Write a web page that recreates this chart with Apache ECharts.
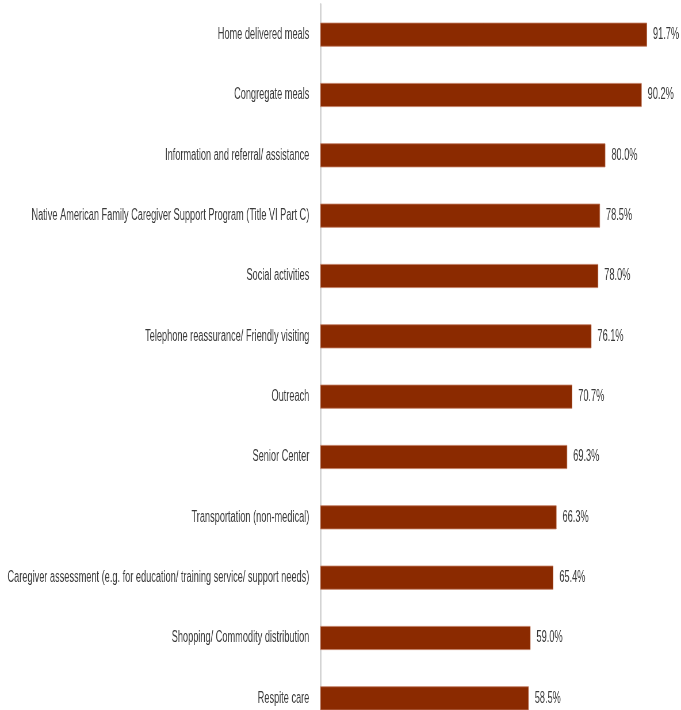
<!DOCTYPE html>
<html>
<head>
<meta charset="utf-8">
<script src="https://cdn.jsdelivr.net/npm/echarts@6/dist/echarts.min.js"></script>
<style>
  html, body { margin: 0; padding: 0; background: #ffffff; overflow: hidden; }
  #wrap { width: 681px; height: 710px; overflow: hidden; }
  /* The chart is laid out wide and then narrowed so the text reads condensed */
  #chart { width: 1184px; height: 710px; transform: scaleX(0.57517); transform-origin: 0 0; }
</style>
</head>
<body>
<div id="wrap"><div id="chart"></div></div>
<script>
// Services offered, top to bottom
const services = [
  'Home delivered meals',
  'Congregate meals',
  'Information and referral/ assistance',
  'Native American Family Caregiver Support Program (Title VI Part C)',
  'Social activities',
  'Telephone reassurance/ Friendly visiting',
  'Outreach',
  'Senior Center',
  'Transportation (non-medical)',
  'Caregiver assessment (e.g. for education/ training service/ support needs)',
  'Shopping/ Commodity distribution',
  'Respite care'
];
// Share of programs offering each service (%)
const shares = [91.7, 90.2, 80.0, 78.5, 78.0, 76.1, 70.7, 69.3, 66.3, 65.4, 59.0, 58.5];

const SX = 681 / 1184;          // horizontal squeeze applied by CSS
const FONT = '"Liberation Sans", Arial, sans-serif';

const chart = echarts.init(document.getElementById('chart'), null, { renderer: 'canvas' });
chart.setOption({
  animation: false,
  backgroundColor: '#ffffff',
  grid: {
    left: 320.3 / SX,
    top: 4.5,
    width: 356.3 / SX,
    height: 724,
    containLabel: false,
    outerBoundsMode: 'none'
  },
  xAxis: {
    type: 'value',
    min: 0,
    max: 100,
    show: false
  },
  yAxis: {
    type: 'category',
    inverse: true,
    data: services,
    axisLine: { show: true, lineStyle: { color: '#d4d4d4', width: 3 } },
    axisTick: { show: false },
    splitLine: { show: false },
    axisLabel: {
      margin: 11 / SX,
      color: '#3a3a3a',
      fontFamily: FONT,
      fontSize: 16
    }
  },
  series: [{
    type: 'bar',
    data: shares,
    barWidth: 24,
    itemStyle: { color: '#8b2a00', borderColor: '#c07a5e', borderWidth: 0.8 },
    label: {
      show: true,
      position: 'right',
      distance: 6 / SX,
      color: '#3a3a3a',
      fontFamily: FONT,
      fontSize: 16,
      formatter: p => p.value.toFixed(1) + '%'
    }
  }]
});
</script>
</body>
</html>
